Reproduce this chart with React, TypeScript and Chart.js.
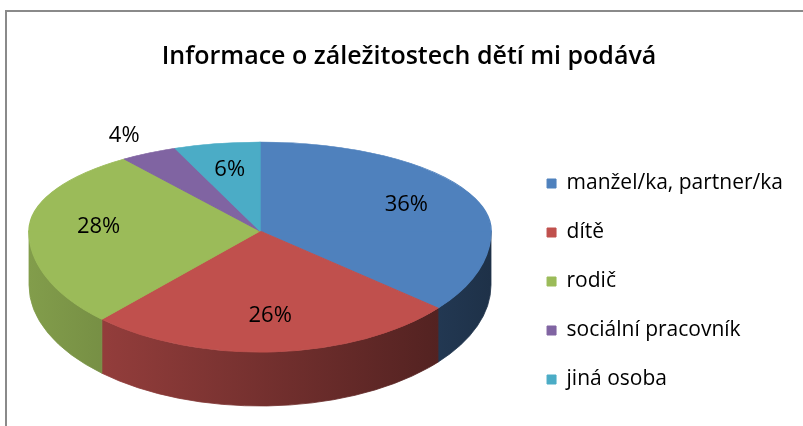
import React, { useEffect, useRef } from 'react';
import { Chart, registerables } from 'chart.js';

Chart.register(...registerables);

const chartTitle = 'Informace o záležitostech dětí mi podává';
const categories = ['manžel/ka, partner/ka', 'dítě', 'rodič', 'sociální pracovník', 'jiná osoba'];
const values = [36, 26, 28, 4, 6];
const colors = ['#4F81BD', '#C0504D', '#9BBB59', '#8064A2', '#4BACC6'];

// 3D pie projection (layout only): apex, horizontal radius, back/front vertical radii, depth
const TX = 260;
const AY = 231;
const RX = 231;
const RYT = 89;
const RYB = 121;
const DEPTH = 54;

function shade(hex: string, f: number) {
  const n = parseInt(hex.slice(1), 16);
  const r = Math.round(((n >> 16) & 255) * f);
  const g = Math.round(((n >> 8) & 255) * f);
  const b = Math.round((n & 255) * f);
  return `rgb(${r},${g},${b})`;
}

function applyTransform(ctx: CanvasRenderingContext2D, a0: any, ry: number) {
  const R = a0.outerRadius;
  ctx.translate(TX, AY);
  ctx.scale(RX / R, ry / R);
  ctx.translate(-a0.x, -a0.y);
}

const pie3d = {
  id: 'pie3d',
  beforeDatasetsDraw(chart: any) {
    const ctx = chart.ctx as CanvasRenderingContext2D;
    const meta = chart.getDatasetMeta(0);
    meta.data.forEach((arc: any, i: number) => {
      const { startAngle, endAngle } = arc.getProps(['startAngle', 'endAngle'], true);
      const a1 = Math.max(startAngle, 0);
      const a2 = Math.min(endAngle, Math.PI);
      if (a2 <= a1) return;
      const g = ctx.createLinearGradient(TX - RX, 0, TX + RX, 0);
      g.addColorStop(0, shade(colors[i], 0.84));
      g.addColorStop(1, shade(colors[i], 0.38));
      ctx.beginPath();
      ctx.ellipse(TX, AY, RX, RYB, 0, a1, a2);
      ctx.lineTo(TX + RX * Math.cos(a2), AY + RYB * Math.sin(a2) + DEPTH);
      ctx.ellipse(TX, AY + DEPTH, RX, RYB, 0, a2, a1, true);
      ctx.closePath();
      ctx.fillStyle = g;
      ctx.fill();
      ctx.strokeStyle = g;
      ctx.lineWidth = 0.8;
      ctx.stroke();
    });
    // front half of the top face (below the apex)
    ctx.save();
    ctx.beginPath();
    ctx.rect(0, AY - 0.5, chart.width, chart.height);
    ctx.clip();
    applyTransform(ctx, meta.data[0], RYB);
  },
  afterDatasetsDraw(chart: any) {
    const ctx = chart.ctx as CanvasRenderingContext2D;
    ctx.restore();
    const meta = chart.getDatasetMeta(0);
    // back half of the top face (above the apex)
    ctx.save();
    ctx.beginPath();
    ctx.rect(0, 0, chart.width, AY + 0.5);
    ctx.clip();
    applyTransform(ctx, meta.data[0], RYT);
    meta.data.forEach((arc: any) => arc.draw(ctx));
    ctx.restore();

    const total = values.reduce((s, v) => s + v, 0);
    ctx.save();
    ctx.font = '22px "Open Sans"';
    ctx.fillStyle = '#000';
    ctx.textAlign = 'center';
    ctx.textBaseline = 'middle';
    meta.data.forEach((arc: any, i: number) => {
      const { startAngle, endAngle } = arc.getProps(['startAngle', 'endAngle'], true);
      const m = (startAngle + endAngle) / 2;
      const pct = values[i] / total;
      const f = pct < 0.05 ? 1.22 : 0.7;
      const s = Math.sin(m);
      const x = TX + f * RX * Math.cos(m);
      const y = AY + f * (s > 0 ? RYB : RYT) * s;
      ctx.fillText(Math.round(pct * 100) + '%', x, y);
    });
    ctx.restore();
  },
};

export default function App() {
  const ref = useRef<HTMLCanvasElement | null>(null);
  useEffect(() => {
    if (!ref.current) return;
    const chart = new Chart(ref.current, {
      type: 'pie',
      data: {
        labels: categories,
        datasets: [
          {
            data: values,
            backgroundColor: colors,
            borderColor: colors,
            borderWidth: 1,
            clip: false as any,
          },
        ],
      },
      options: {
        responsive: false,
        animation: false,
        events: [],
        layout: { padding: { left: 25, right: 10, bottom: 8 } },
        plugins: {
          title: {
            display: true,
            text: chartTitle,
            color: '#000',
            font: { family: 'Open Sans', size: 25, weight: '600' },
            padding: { top: 42, bottom: 20 },
          },
          legend: {
            position: 'right',
            align: 'end',
            labels: {
              color: '#000',
              font: { family: 'Open Sans', size: 21 },
              boxWidth: 9,
              boxHeight: 9,
              padding: 28,
            },
          },
          tooltip: { enabled: false },
        },
      },
      plugins: [pie3d],
    });
    return () => chart.destroy();
  }, []);
  return (
    <div style={{ position: 'fixed', left: 0, top: 0, width: 803, height: 426, background: '#fff', overflow: 'hidden' }}>
      <canvas ref={ref} width={803} height={426} style={{ display: 'block', position: 'absolute', left: 0, top: 0 }} />
      <div
        style={{
          position: 'absolute',
          left: 5,
          top: 10,
          width: 900,
          height: 600,
          border: '2px solid #8a8a8a',
          boxSizing: 'border-box',
          pointerEvents: 'none',
        }}
      />
    </div>
  );
}
